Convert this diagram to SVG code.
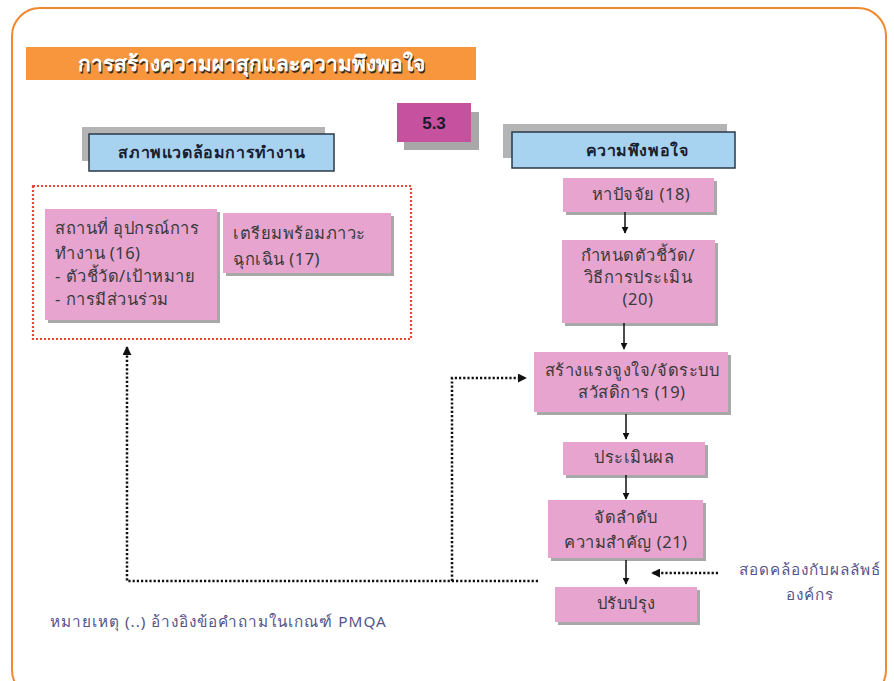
<svg xmlns="http://www.w3.org/2000/svg" width="894" height="681" viewBox="0 0 894 681">
<defs>
<marker id="ah" viewBox="0 0 10 10" refX="9" refY="5" markerWidth="7" markerHeight="7" markerUnits="userSpaceOnUse" orient="auto"><path d="M0,0 L10,5 L0,10 z" fill="#111"/></marker>
<marker id="ahd" viewBox="0 0 10 10" refX="9" refY="5" markerWidth="9" markerHeight="9" markerUnits="userSpaceOnUse" orient="auto"><path d="M0,0 L10,5 L0,10 z" fill="#111"/></marker>
</defs>
<style>
.pk{fill:#E6A4CF}
.sh{fill:#A8A8A8}
.bl{fill:#A7D3F0;stroke:#2A3A4A;stroke-width:1.5}
.t{font-family:"Noto Sans","DejaVu Sans",sans-serif;font-size:16.5px;letter-spacing:0.5px;fill:#3A3A3A}
.c{text-anchor:middle}
.hb{font-family:"Noto Sans","DejaVu Sans",sans-serif;font-size:16px;letter-spacing:0.6px;font-weight:bold;fill:#1A2030;text-anchor:middle}
.note{font-family:"Noto Sans","DejaVu Sans",sans-serif;font-size:15.3px;letter-spacing:1px;fill:#55558A}
.ar{stroke:#111;stroke-width:1.5;fill:none;marker-end:url(#ah)}
.dt{stroke:#111;stroke-width:2.5;fill:none;stroke-dasharray:2.2 2}
</style>
<rect x="0" y="0" width="894" height="681" fill="#fff"/>
<rect id="frame" x="12" y="8" width="874" height="690" rx="28" fill="#fff" stroke="#F08A30" stroke-width="2"/>

<g id="title">
<rect x="26" y="47" width="450" height="33" fill="#F7963C"/>
<text x="251" y="71" text-anchor="middle" font-family="'Noto Sans','DejaVu Sans',sans-serif" font-size="21" font-weight="bold" fill="#3A2A1A" transform="translate(1.5,1.5)">การสร้างความผาสุกและความพึงพอใจ</text>
<text x="251" y="71" text-anchor="middle" font-family="'Noto Sans','DejaVu Sans',sans-serif" font-size="21" font-weight="bold" fill="#fff">การสร้างความผาสุกและความพึงพอใจ</text>
</g>

<g id="sec53">
<rect x="404" y="112" width="75" height="38" class="sh"/>
<rect x="397" y="103" width="74" height="39" fill="#C6519E"/>
<text x="434" y="129" text-anchor="middle" font-family="'Liberation Sans',sans-serif" font-size="17" font-weight="bold" fill="#1A1A2A">5.3</text>
</g>

<g id="hdr-left">
<rect x="82" y="127" width="243" height="34" fill="#B4B4B4"/>
<rect x="89" y="134" width="245" height="37" class="bl"/>
<text x="212" y="158" class="hb">สภาพแวดล้อมการทำงาน</text>
</g>

<g id="env-group">
<rect x="33" y="186" width="378" height="153" fill="none" stroke="#E8463A" stroke-width="2.2" stroke-dasharray="2 2"/>
</g>

<g id="n16">
<rect x="48" y="212" width="172" height="111" class="sh"/>
<rect x="45" y="209" width="172" height="111" class="pk"/>
<text class="t" x="55" y="234">สถานที่ อุปกรณ์การ</text>
<text class="t" x="55" y="259">ทำงาน (16)</text>
<text class="t" x="55" y="282">- ตัวชี้วัด/เป้าหมาย</text>
<text class="t" x="55" y="305">- การมีส่วนร่วม</text>
</g>

<g id="n17">
<rect x="226" y="216" width="168" height="60" class="sh"/>
<rect x="223" y="213" width="168" height="60" class="pk"/>
<text class="t" x="233" y="239">เตรียมพร้อมภาวะ</text>
<text class="t" x="233" y="265">ฉุกเฉิน (17)</text>
</g>

<g id="hdr-right">
<rect x="503" y="124" width="224" height="34" fill="#B4B4B4"/>
<rect x="512" y="132" width="223" height="36" class="bl"/>
<text x="637" y="156" class="hb">ความพึงพอใจ</text>
</g>

<g id="n18">
<rect x="566" y="181" width="151" height="34" class="sh"/>
<rect x="563" y="178" width="151" height="34" class="pk"/>
<text class="t c" x="641" y="200">หาปัจจัย (18)</text>
</g>

<g id="n20">
<rect x="565" y="243" width="153" height="83" class="sh"/>
<rect x="562" y="240" width="153" height="83" class="pk"/>
<text class="t c" x="638" y="261">กำหนดตัวชี้วัด/</text>
<text class="t c" x="638" y="283">วิธีการประเมิน</text>
<text class="t c" x="638" y="305">(20)</text>
</g>

<g id="n19">
<rect x="537" y="355" width="194" height="60" class="sh"/>
<rect x="534" y="352" width="194" height="60" class="pk"/>
<text class="t c" x="632" y="376">สร้างแรงจูงใจ/จัดระบบ</text>
<text class="t c" x="632" y="398">สวัสดิการ (19)</text>
</g>

<g id="neval">
<rect x="566" y="445" width="142" height="33" class="sh"/>
<rect x="563" y="442" width="142" height="33" class="pk"/>
<text class="t c" x="634" y="463">ประเมินผล</text>
</g>

<g id="n21">
<rect x="551" y="503" width="155" height="58" class="sh"/>
<rect x="548" y="500" width="155" height="58" class="pk"/>
<text class="t c" x="626" y="523">จัดลำดับ</text>
<text class="t c" x="626" y="548">ความสำคัญ (21)</text>
</g>

<g id="nimprove">
<rect x="558" y="590" width="142" height="35" class="sh"/>
<rect x="555" y="587" width="142" height="35" class="pk"/>
<text class="t c" x="626" y="609">ปรับปรุง</text>
</g>

<g id="align-label">
<text class="note c" x="810" y="575" font-size="17" letter-spacing="1.2">สอดคล้องกับผลลัพธ์</text>
<text class="note c" x="810" y="600" font-size="17" letter-spacing="1.2">องค์กร</text>
</g>

<g id="footnote">
<text class="note" x="50" y="627">หมายเหตุ (..) อ้างอิงข้อคำถามในเกณฑ์ PMQA</text>
</g>

<g id="connectors">
<line class="ar" x1="625" y1="212" x2="625" y2="233"/>
<line class="ar" x1="624" y1="323" x2="624" y2="349"/>
<line class="ar" x1="626" y1="414" x2="626" y2="439"/>
<line class="ar" x1="626" y1="475" x2="626" y2="499"/>
<line class="ar" x1="626" y1="560" x2="626" y2="584"/>
<path class="dt" d="M718,573 H652" marker-end="url(#ahd)"/>
<path class="dt" d="M538,581 H127 V347" marker-end="url(#ahd)"/>
<path class="dt" d="M452,581 V378 H526" marker-end="url(#ahd)"/>
</g>
</svg>
